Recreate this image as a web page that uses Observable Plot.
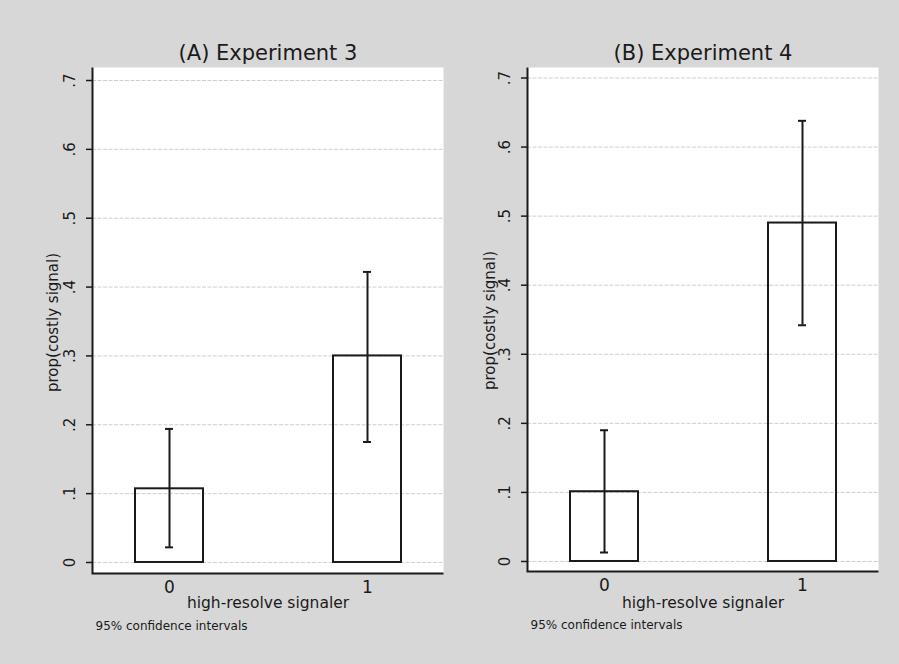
<!DOCTYPE html>
<html>
<head>
<meta charset="utf-8">
<script src="https://cdn.jsdelivr.net/npm/d3@7"></script>
<script src="https://cdn.jsdelivr.net/npm/@observablehq/plot@0.6"></script>
<style>
  html, body { margin: 0; padding: 0; background: #d7d7d7; }
  #chart { position: relative; width: 899px; height: 664px; background: #d7d7d7; overflow: hidden; }
  #chart svg { position: absolute; top: 0; overflow: visible; }
</style>
</head>
<body>
<div id="chart"></div>
<script>
// Proportion choosing the costly signal, by signaler type, with 95% CIs
const categories = ["0", "1"];

const propA = [0.107, 0.300];
const lowA  = [0.022, 0.175];
const highA = [0.194, 0.422];

const propB = [0.101, 0.490];
const lowB  = [0.013, 0.342];
const highB = [0.190, 0.638];

const yTicks = [0, 0.1, 0.2, 0.3, 0.4, 0.5, 0.6, 0.7];
const yTickLabels = ["0", ".1", ".2", ".3", ".4", ".5", ".6", ".7"];

const panelTitles = ["(A) Experiment 3", "(B) Experiment 4"];
const xTitle = "high-resolve signaler";
const yTitle = "prop(costly signal)";
const noteText = "95% confidence intervals";

const ink = "#1a1a1a";
const font = "DejaVu Sans";

function panel({title, prop, low, high, left, width, margins, yDomain, yTitleDx, yTitleDy, xTitleDy, noteDy}) {
  const rows = categories.map((c, i) => ({cat: c, prop: prop[i], low: low[i], high: high[i]}));
  const fmt = d => yTickLabels[yTicks.indexOf(d)];
  const height = 664;
  // Frame width and height, used to stroke only the bottom and left edges as axis lines
  const fw = width - margins.marginLeft - margins.marginRight;
  const fh = height - margins.marginTop - margins.marginBottom;
  const svg = Plot.plot({
    width,
    height,
    ...margins,
    style: {background: "transparent", fontFamily: font, color: ink, overflow: "visible"},
    x: {type: "band", domain: categories, paddingInner: 0.657, paddingOuter: 0.212},
    y: {domain: yDomain},
    marks: [
      Plot.frame({fill: "white", stroke: null}),
      Plot.gridY(yTicks, {stroke: "#c9c9c9", strokeOpacity: 1, strokeWidth: 0.9, strokeDasharray: "4,1.5"}),
      Plot.barY(rows, {x: "cat", y: "prop", fill: "none", stroke: ink, strokeWidth: 2}),
      Plot.ruleX(rows, {x: "cat", y1: "low", y2: "high", stroke: ink, strokeWidth: 2}),
      Plot.tickY(rows, {x: "cat", y: "low", stroke: ink, strokeWidth: 2, insetLeft: 30, insetRight: 30}),
      Plot.tickY(rows, {x: "cat", y: "high", stroke: ink, strokeWidth: 2, insetLeft: 30, insetRight: 30}),
      // bottom + left axis lines: skip the top and right edges of the frame outline
      Plot.frame({fill: "none", stroke: ink, strokeWidth: 2, strokeDasharray: `0,${fw + fh},${fw + fh}`}),
      Plot.axisY(yTicks, {
        tickSize: 6, tickPadding: 16, tickRotate: -90, lineAnchor: "middle",
        tickFormat: fmt, fontSize: 15, label: null, stroke: ink, strokeWidth: 1.5
      }),
      Plot.axisX({tickSize: 0, tickPadding: 7, fontSize: 17, label: null}),
      Plot.text([title], {frameAnchor: "top", dy: -8, lineAnchor: "bottom", fontSize: 21, fill: ink}),
      Plot.text([yTitle], {frameAnchor: "left", textAnchor: "middle", dx: yTitleDx, dy: yTitleDy, rotate: -90, lineAnchor: "middle", fontSize: 15, fill: ink}),
      Plot.text([xTitle], {frameAnchor: "bottom", dy: xTitleDy, lineAnchor: "bottom", fontSize: 15.5, fill: ink}),
      Plot.text([noteText], {frameAnchor: "bottom-left", dx: 3, dy: noteDy, textAnchor: "start", lineAnchor: "bottom", fontSize: 12, fill: ink})
    ]
  });
  svg.style.left = left + "px";
  document.getElementById("chart").appendChild(svg);
}

panel({
  title: panelTitles[0], prop: propA, low: lowA, high: highA,
  left: 0, width: 449,
  margins: {marginLeft: 92, marginRight: 6, marginTop: 67, marginBottom: 91},
  yDomain: [-0.016, 0.7189],
  yTitleDx: -39, yTitleDy: 2, xTitleDy: 34, noteDy: 56
});

panel({
  title: panelTitles[1], prop: propB, low: lowB, high: highB,
  left: 449, width: 450,
  margins: {marginLeft: 78, marginRight: 21, marginTop: 67, marginBottom: 93},
  yDomain: [-0.0145, 0.7152],
  yTitleDx: -37, yTitleDy: 1, xTitleDy: 36, noteDy: 57
});
</script>
</body>
</html>
